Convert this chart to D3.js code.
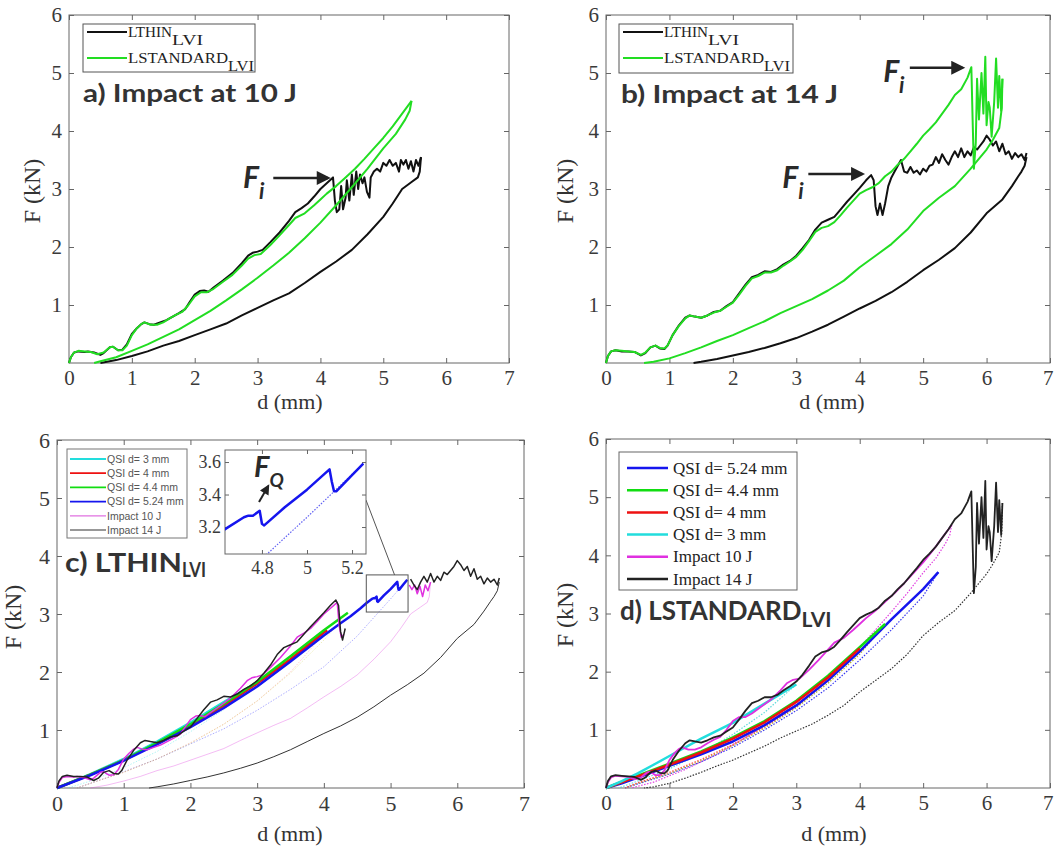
<!DOCTYPE html>
<html>
<head>
<meta charset="utf-8">
<script src="https://cdn.jsdelivr.net/npm/d3@7/dist/d3.min.js"></script>
<style>
  body { margin: 0; background: #fff; }
</style>
</head>
<body>
<div id="chart"></div>
<script>
// ---- tick values ----
const xTicks = [0, 1, 2, 3, 4, 5, 6, 7]
const yTicks = [1, 2, 3, 4, 5, 6]
const insetXTicks = [4.8, 5, 5.2]
const insetYTicks = [3.2, 3.4, 3.6]

// ---- series names ----
const legendAB = ["LTHIN", "LSTANDARD"]
const legendC = ["QSI d= 3 mm", "QSI d= 4 mm", "QSI d= 4.4 mm", "QSI d= 5.24 mm", "Impact 10 J", "Impact 14 J"]
const legendD = ["QSI d= 5.24 mm", "QSI d= 4.4 mm", "QSI d= 4 mm", "QSI d= 3 mm", "Impact 10 J", "Impact 14 J"]

// ---- impact curves [d (mm), F (kN)] ----
// LTHIN, 10 J
const thin10Load = [[0,0],[0.03,0.1],[0.08,0.18],[0.15,0.2],[0.25,0.19],[0.3,0.2],[0.4,0.18],[0.5,0.14],[0.55,0.17],[0.65,0.27],[0.7,0.28],[0.78,0.22],[0.85,0.23],[0.92,0.32],[1.0,0.5],[1.08,0.6],[1.15,0.67],[1.2,0.7],[1.28,0.67],[1.35,0.66],[1.45,0.7],[1.55,0.74],[1.65,0.8],[1.75,0.86],[1.85,0.93],[1.92,1.05],[2.0,1.18],[2.08,1.24],[2.15,1.25],[2.22,1.23],[2.3,1.3],[2.45,1.42],[2.6,1.55],[2.75,1.72],[2.85,1.85],[2.92,1.9],[3.0,1.92],[3.08,1.95],[3.2,2.08],[3.35,2.25],[3.5,2.45],[3.6,2.6],[3.7,2.67],[3.8,2.75],[3.9,2.87],[4.0,3.0],[4.1,3.1],[4.2,3.2],[4.23,2.8],[4.26,2.6],[4.3,2.65],[4.33,3.05],[4.36,2.65],[4.4,2.85],[4.42,3.15],[4.46,2.8],[4.5,3.25],[4.53,2.9],[4.57,3.3],[4.6,3.0],[4.63,3.25],[4.67,3.1],[4.7,3.2],[4.74,2.95],[4.78,2.85],[4.8,3.2],[4.85,3.3],[4.9,3.35],[4.95,3.3],[5.0,3.45],[5.05,3.4],[5.1,3.5],[5.15,3.4],[5.2,3.45],[5.25,3.3],[5.28,3.5],[5.32,3.42],[5.36,3.5],[5.4,3.35],[5.44,3.48],[5.48,3.3],[5.52,3.5],[5.56,3.4],[5.6,3.55]]
const thin10Unload = [[5.6,3.55],[5.58,3.3],[5.55,3.2],[5.45,3.12],[5.3,3.0],[5.15,2.75],[5.0,2.52],[4.75,2.22],[4.5,1.95],[4.25,1.75],[4.0,1.57],[3.75,1.38],[3.5,1.2],[3.25,1.08],[3.0,0.95],[2.75,0.82],[2.5,0.68],[2.25,0.58],[2.0,0.48],[1.75,0.38],[1.5,0.3],[1.25,0.2],[1.0,0.12],[0.75,0.05],[0.5,0]]
// LSTANDARD, 10 J
const std10Load = [[0,0],[0.03,0.1],[0.08,0.18],[0.15,0.21],[0.25,0.2],[0.35,0.19],[0.45,0.15],[0.55,0.18],[0.65,0.27],[0.7,0.28],[0.78,0.22],[0.85,0.22],[0.92,0.3],[1.0,0.48],[1.08,0.6],[1.15,0.67],[1.2,0.7],[1.3,0.66],[1.4,0.66],[1.5,0.7],[1.6,0.77],[1.7,0.83],[1.8,0.88],[1.9,1.0],[2.0,1.15],[2.1,1.22],[2.2,1.22],[2.3,1.28],[2.45,1.4],[2.6,1.52],[2.75,1.68],[2.85,1.8],[2.95,1.86],[3.05,1.88],[3.2,2.03],[3.35,2.2],[3.5,2.38],[3.6,2.5],[3.75,2.58],[3.9,2.72],[4.0,2.82],[4.1,2.92],[4.25,3.05],[4.4,3.2],[4.55,3.35],[4.7,3.52],[4.85,3.7],[5.0,3.88],[5.15,4.08],[5.3,4.3],[5.45,4.52]]
const std10Unload = [[5.45,4.52],[5.42,4.35],[5.35,4.2],[5.2,3.95],[5.0,3.7],[4.75,3.35],[4.5,3.03],[4.25,2.72],[4.0,2.42],[3.75,2.15],[3.5,1.9],[3.25,1.68],[3.0,1.47],[2.75,1.27],[2.5,1.08],[2.25,0.9],[2.0,0.74],[1.75,0.58],[1.5,0.45],[1.25,0.32],[1.0,0.21],[0.75,0.1],[0.5,0.03],[0.4,0]]
// LTHIN, 14 J
const thin14Load = [[0,0],[0.03,0.12],[0.08,0.2],[0.15,0.22],[0.25,0.2],[0.35,0.2],[0.45,0.19],[0.55,0.13],[0.62,0.17],[0.7,0.27],[0.78,0.3],[0.85,0.25],[0.92,0.24],[0.97,0.3],[1.05,0.48],[1.15,0.65],[1.25,0.78],[1.32,0.82],[1.4,0.8],[1.5,0.78],[1.6,0.82],[1.7,0.88],[1.8,0.9],[1.9,0.98],[2.0,1.05],[2.1,1.2],[2.2,1.35],[2.3,1.48],[2.4,1.52],[2.5,1.58],[2.6,1.57],[2.7,1.62],[2.8,1.7],[2.9,1.76],[3.0,1.85],[3.1,1.98],[3.2,2.12],[3.3,2.3],[3.4,2.42],[3.5,2.47],[3.6,2.52],[3.7,2.65],[3.8,2.78],[3.9,2.9],[4.0,3.02],[4.1,3.15],[4.18,3.24],[4.22,3.15],[4.25,2.7],[4.28,2.55],[4.32,2.75],[4.36,2.55],[4.4,2.75],[4.45,3.05],[4.5,3.2],[4.55,3.3],[4.6,3.4],[4.65,3.5],[4.7,3.3],[4.75,3.28],[4.8,3.38],[4.85,3.28],[4.9,3.32],[4.95,3.25],[5.0,3.35],[5.05,3.3],[5.1,3.4],[5.15,3.42],[5.2,3.55],[5.25,3.45],[5.3,3.6],[5.35,3.5],[5.4,3.42],[5.45,3.55],[5.5,3.65],[5.55,3.55],[5.6,3.7],[5.65,3.55],[5.7,3.65],[5.75,3.58],[5.8,3.72],[5.85,3.68],[5.9,3.75],[5.95,3.82],[6.0,3.92],[6.05,3.85],[6.1,3.75],[6.15,3.82],[6.2,3.65],[6.25,3.78],[6.3,3.6],[6.35,3.65],[6.4,3.52],[6.45,3.62],[6.5,3.55],[6.55,3.6],[6.6,3.5],[6.63,3.62]]
const thin14Unload = [[6.63,3.55],[6.6,3.4],[6.55,3.3],[6.5,3.22],[6.4,3.05],[6.25,2.82],[6.0,2.58],[5.75,2.25],[5.5,1.98],[5.25,1.78],[5.0,1.6],[4.75,1.4],[4.5,1.22],[4.25,1.07],[4.0,0.94],[3.75,0.8],[3.5,0.66],[3.25,0.54],[3.0,0.43],[2.75,0.34],[2.5,0.26],[2.25,0.19],[2.0,0.13],[1.75,0.07],[1.5,0.02],[1.38,0]]
// LSTANDARD, 14 J
const std14Load = [[0,0],[0.03,0.12],[0.08,0.2],[0.15,0.22],[0.25,0.21],[0.35,0.2],[0.45,0.19],[0.55,0.14],[0.62,0.18],[0.7,0.27],[0.78,0.3],[0.85,0.26],[0.92,0.25],[0.97,0.3],[1.05,0.48],[1.15,0.64],[1.25,0.77],[1.32,0.82],[1.4,0.8],[1.5,0.78],[1.6,0.82],[1.7,0.87],[1.8,0.9],[1.9,0.97],[2.0,1.04],[2.1,1.18],[2.2,1.33],[2.3,1.46],[2.4,1.5],[2.5,1.56],[2.6,1.56],[2.7,1.6],[2.8,1.68],[2.9,1.75],[3.0,1.83],[3.1,1.95],[3.2,2.1],[3.3,2.26],[3.4,2.33],[3.5,2.36],[3.6,2.43],[3.7,2.55],[3.8,2.68],[3.9,2.8],[4.0,2.92],[4.1,2.98],[4.2,3.03],[4.3,3.1],[4.4,3.22],[4.5,3.3],[4.6,3.42],[4.7,3.52],[4.8,3.65],[4.9,3.78],[5.0,3.92],[5.1,4.03],[5.2,4.15],[5.3,4.3],[5.4,4.45],[5.5,4.62],[5.6,4.72],[5.7,4.92],[5.76,5.1],[5.78,4.2],[5.8,3.35],[5.83,3.8],[5.85,4.9],[5.88,4.2],[5.92,5.0],[5.95,4.3],[5.98,5.28],[6.0,4.1],[6.03,4.5],[6.05,4.4],[6.08,3.9],[6.12,4.5],[6.15,5.25],[6.18,4.4],[6.2,4.95],[6.23,4.35],[6.25,4.9]]
const std14Unload = [[6.25,4.9],[6.24,4.4],[6.2,4.05],[6.1,3.85],[6.0,3.68],[5.75,3.35],[5.5,3.05],[5.25,2.85],[5.0,2.62],[4.75,2.3],[4.5,2.05],[4.25,1.85],[4.0,1.65],[3.75,1.42],[3.5,1.25],[3.25,1.1],[3.0,0.98],[2.75,0.86],[2.5,0.72],[2.25,0.6],[2.0,0.48],[1.75,0.38],[1.5,0.27],[1.25,0.17],[1.0,0.08],[0.75,0.02],[0.6,0]]

// ---- QSI curves, LTHIN ----
const thinQsi3 = [[0,0],[0.5,0.24],[1,0.5],[1.5,0.8],[2,1.13],[2.5,1.48],[3,1.82]]
const thinQsi4 = [[0,0],[0.5,0.23],[1,0.48],[1.5,0.77],[2,1.08],[2.5,1.42],[3,1.8],[3.5,2.22],[4,2.68],[4.05,2.72]]
const thinQsi44 = [[0,0],[0.5,0.23],[1,0.48],[1.5,0.78],[2,1.1],[2.5,1.45],[3,1.83],[3.5,2.27],[4,2.72],[4.36,3.02]]
const thinQsi524 = [[0,0],[0.5,0.22],[1,0.47],[1.5,0.75],[2,1.05],[2.5,1.38],[3,1.75],[3.5,2.18],[4,2.63],[4.25,2.84],[4.4,2.96],[4.55,3.1],[4.64,3.19],[4.72,3.26],[4.74,3.27],[4.76,3.27],[4.79,3.3],[4.8,3.22],[4.81,3.21],[4.9,3.32],[5.0,3.43],[5.1,3.555],[5.11,3.48],[5.12,3.42],[5.13,3.42],[5.2,3.52],[5.25,3.59]]
const thinQsi3Unload = [[3,1.82],[2.5,1.35],[2,0.97],[1.5,0.63],[1,0.35],[0.5,0.12],[0.25,0.03],[0.15,0]]
const thinQsi4Unload = [[4.05,2.72],[3.5,2.0],[3,1.5],[2.5,1.1],[2,0.78],[1.5,0.5],[1,0.27],[0.5,0.08],[0.3,0]]
const thinQsi44Unload = [[4.36,3.02],[4,2.55],[3.5,1.98],[3,1.5],[2.5,1.1],[2,0.77],[1.5,0.5],[1,0.27],[0.5,0.08],[0.3,0]]
const thinQsi524Unload = [[5.25,3.59],[5.0,3.26],[4.82,3.03],[4.5,2.62],[4.0,2.09],[3.5,1.7],[3.0,1.34],[2.5,1.02],[2.0,0.76],[1.5,0.5],[1.0,0.28],[0.5,0.08],[0.3,0]]

// ---- QSI curves, LSTANDARD ----
const stdQsi524 = [[0,0],[0.25,0.08],[0.5,0.18],[0.75,0.28],[1,0.38],[1.5,0.58],[2,0.8],[2.5,1.08],[3,1.42],[3.5,1.85],[4,2.35],[4.5,2.9],[5,3.42],[5.24,3.71]]
const stdQsi44 = [[0,0],[0.5,0.21],[1,0.42],[1.5,0.63],[2,0.87],[2.5,1.15],[3,1.5],[3.5,1.93],[4,2.42],[4.4,2.82]]
const stdQsi4 = [[0,0],[0.5,0.2],[1,0.4],[1.5,0.61],[2,0.85],[2.5,1.13],[3,1.48],[3.5,1.9],[4,2.4]]
const stdQsi3 = [[0,0],[0.25,0.12],[0.5,0.25],[0.75,0.4],[1,0.55],[1.5,0.85],[2,1.12],[2.5,1.45],[3,1.78]]
const stdQsi524Unload = [[5.24,3.71],[5.0,3.3],[4.5,2.72],[4.0,2.2],[3.5,1.72],[3.0,1.33],[2.5,1.0],[2.0,0.7],[1.5,0.45],[1.0,0.24],[0.5,0.07],[0.3,0]]
const stdQsi44Unload = [[4.4,2.82],[4.0,2.3],[3.5,1.8],[3.0,1.38],[2.5,1.03],[2.0,0.73],[1.5,0.47],[1.0,0.25],[0.5,0.08],[0.3,0]]
const stdQsi4Unload = [[4.0,2.4],[3.5,1.84],[3.0,1.4],[2.5,1.05],[2.0,0.75],[1.5,0.49],[1.0,0.27],[0.5,0.09],[0.3,0]]
const stdQsi3Unload = [[3.0,1.78],[2.5,1.3],[2.0,0.92],[1.5,0.6],[1.0,0.33],[0.5,0.12],[0.2,0]]

// in panel c the impact loadings are only shown outside this d range
const hiddenC = [4.32, 5.28]

const GREEN = "#22dd22"
const serif = "'Liberation Serif', 'Times New Roman', serif"
const sans = "Lato, 'Open Sans', sans-serif"

const svg = d3.select("#chart").append("svg")
    .attr("width", 1054)
    .attr("height", 846)
    .style("background", "#fff")

const defs = svg.append("defs")
function addMarker(id, w, h) {
    defs.append("marker")
        .attr("id", id)
        .attr("viewBox", "0 0 10 10")
        .attr("refX", 8).attr("refY", 5)
        .attr("markerWidth", w).attr("markerHeight", h)
        .attr("markerUnits", "userSpaceOnUse")
        .attr("orient", "auto")
        .append("path").attr("d", "M0,0 L10,5 L0,10 z").attr("fill", "#222")
}
addMarker("head", 17, 14)
addMarker("headSmall", 11, 10)

function makePanel(box, xDom, yDom) {
    const x = d3.scaleLinear().domain(xDom).range([box.left, box.right])
    const y = d3.scaleLinear().domain(yDom).range([box.bottom, box.top])
    return { x: x, y: y, box: box }
}

function drawFrame(p, xt, yt, fontSize, tick, xPad, yPad, fmt, edgeRight) {
    const b = p.box
    const g = svg.append("g")
    g.append("rect")
        .attr("x", b.left).attr("y", b.top)
        .attr("width", b.right - b.left).attr("height", b.bottom - b.top)
        .attr("fill", "#fff").attr("stroke", "#666").attr("stroke-width", 1)
    const axes = [
        [d3.axisBottom(p.x).tickValues(xt).tickPadding(xPad).tickFormat(fmt), `translate(0,${b.bottom})`],
        [d3.axisTop(p.x).tickValues(xt).tickFormat(""), `translate(0,${b.top})`],
        [d3.axisLeft(p.y).tickValues(yt).tickPadding(yPad).tickFormat(fmt), `translate(${b.left},0)`],
        [d3.axisRight(p.y).tickValues(yt).tickFormat(""), `translate(${b.right},0)`]
    ]
    axes.forEach(function (a, i) {
        const ax = g.append("g").attr("transform", a[1])
            .call(a[0].tickSizeInner(-tick).tickSizeOuter(0))
        ax.select(".domain").remove()
        ax.selectAll(".tick line").attr("stroke", "#666")
        ax.selectAll("text")
            .style("font-family", serif)
            .style("font-size", fontSize + "px")
            .attr("fill", "#3a3a3a")
        // last x label sits at the page edge: keep it inside
        if (i === 0 && edgeRight) {
            ax.selectAll(".tick:last-of-type text").attr("text-anchor", "end").attr("x", 3)
        }
    })
    return g
}

function axisTitles(p, fx, fy, dx, dy) {
    svg.append("text")
        .attr("transform", `translate(${fx},${fy}) rotate(-90)`)
        .attr("text-anchor", "middle")
        .style("font-family", serif).style("font-size", "24px")
        .attr("fill", "#333")
        .text("F (kN)")
    svg.append("text")
        .attr("x", dx).attr("y", dy)
        .attr("text-anchor", "middle")
        .style("font-family", serif).style("font-size", "22px")
        .attr("fill", "#333")
        .text("d (mm)")
}

function drawSeries(p, data, color, width, dash, opacity, parent, gap) {
    const gen = d3.line()
        .x(function (d) { return p.x(d[0]) })
        .y(function (d) { return p.y(d[1]) })
    if (gap) gen.defined(function (d) { return d[0] <= gap[0] || d[0] >= gap[1] })
    ;(parent || svg).append("path")
        .datum(data)
        .attr("d", gen)
        .attr("fill", "none")
        .attr("stroke", color)
        .attr("stroke-width", width)
        .attr("stroke-linejoin", "round")
        .attr("stroke-dasharray", dash || null)
        .attr("opacity", opacity == null ? 1 : opacity)
}

// text with a subscript part
function subLabel(x, y, main, sub, o) {
    const t = svg.append("text")
        .attr("x", x).attr("y", y)
        .style("font-family", o.family)
        .style("font-weight", o.weight || "normal")
        .style("font-style", o.style || "normal")
        .attr("fill", o.fill || "#222")
    const m = t.append("tspan").style("font-size", o.size + "px").text(main)
    if (o.mainWidth) m.attr("textLength", o.mainWidth).attr("lengthAdjust", "spacingAndGlyphs")
    const s = t.append("tspan").attr("dy", o.subDy).style("font-size", o.subSize + "px").text(sub)
    if (o.subWidth) s.attr("textLength", o.subWidth).attr("lengthAdjust", "spacingAndGlyphs")
    return t
}

function title(x, y, txt, w) {
    svg.append("text")
        .attr("x", x).attr("y", y)
        .style("font-family", sans).style("font-weight", "bold")
        .style("font-size", "24px")
        .attr("fill", "#333")
        .attr("textLength", w).attr("lengthAdjust", "spacingAndGlyphs")
        .text(txt)
}

function fi(p, dx, fy, sub, ax1, ax2, big) {
    const x = p.x(dx), y = p.y(fy)
    subLabel(x, y, "F", sub, {
        family: sans, weight: "bold", style: "italic", fill: "#2a2a2a",
        size: big ? 30 : 29, subSize: big ? 22 : 19, subDy: big ? 11 : 10
    })
    svg.append("line")
        .attr("x1", p.x(ax1[0])).attr("y1", p.y(ax1[1]))
        .attr("x2", p.x(ax2[0])).attr("y2", p.y(ax2[1]))
        .attr("stroke", "#222").attr("stroke-width", big ? 2.5 : 2)
        .attr("marker-end", big ? "url(#head)" : "url(#headSmall)")
}

function abLegend(x0, y0, x1, y1, lineX0, lineX1, rows) {
    svg.append("rect").attr("x", x0).attr("y", y0).attr("width", x1 - x0).attr("height", y1 - y0)
        .attr("fill", "#fff").attr("stroke", "#555").attr("stroke-width", 1)
    rows.forEach(function (r) {
        svg.append("line").attr("x1", lineX0).attr("x2", lineX1).attr("y1", r.y).attr("y2", r.y)
            .attr("stroke", r.color).attr("stroke-width", 2)
        subLabel(lineX1 + 1, r.y + 5, r.name, "LVI", {
            family: serif, size: 15, subSize: 14, subDy: 8, fill: "#222",
            mainWidth: r.mw, subWidth: r.sw
        })
    })
}

// ================= Panel a =================
const pa = makePanel({ left: 69, right: 509, top: 15, bottom: 363 }, [0, 7], [0, 6])
drawFrame(pa, xTicks, yTicks, 21, 5, 7, 7, d3.format("d"))
drawSeries(pa, thin10Unload, "#111", 2)
drawSeries(pa, thin10Load, "#111", 2)
drawSeries(pa, std10Unload, GREEN, 2)
drawSeries(pa, std10Load, GREEN, 2)
abLegend(83, 24, 255, 72, 87, 127, [
    { y: 32, color: "#111", name: legendAB[0], mw: 44, sw: 31 },
    { y: 58, color: GREEN, name: legendAB[1], mw: 100, sw: 26 }
])
title(83, 102, "a) Impact at 10 J", 214)
fi(pa, 2.77, 3.02, "i", [3.25, 3.19], [4.12, 3.19], true)
axisTitles(pa, 40, 191, 290, 409)

// ================= Panel b =================
const pb = makePanel({ left: 606, right: 1050, top: 15, bottom: 363 }, [0, 7], [0, 6])
drawFrame(pb, xTicks, yTicks, 21, 5, 7, 7, d3.format("d"), true)
drawSeries(pb, thin14Unload, "#111", 2)
drawSeries(pb, thin14Load, "#111", 2)
drawSeries(pb, std14Unload, GREEN, 2)
drawSeries(pb, std14Load, GREEN, 2)
abLegend(619, 24, 793, 73, 623, 663, [
    { y: 32, color: "#111", name: legendAB[0], mw: 44, sw: 31 },
    { y: 58, color: GREEN, name: legendAB[1], mw: 100, sw: 26 }
])
title(621, 103, "b) Impact at 14 J", 217)
fi(pb, 2.78, 3.02, "i", [3.19, 3.26], [4.04, 3.26], true)
fi(pb, 4.37, 4.84, "i", [4.79, 5.09], [5.62, 5.09], true)
axisTitles(pb, 573, 191, 832, 409)

// ================= Panel c =================
const pc = makePanel({ left: 57, right: 524, top: 440, bottom: 788 }, [0, 7], [0, 6])
drawFrame(pc, xTicks, yTicks, 22, 5, 7, 7, d3.format("d"))
drawSeries(pc, thin14Unload, "#333", 1)
drawSeries(pc, thin10Unload, "#e040e0", 1, null, 0.35)
drawSeries(pc, thinQsi524Unload, "#6a6aff", 1, "1.5,1.5", 0.55)
drawSeries(pc, thinQsi3Unload, "#00dddd", 1, "1.5,1.5", 0.3)
drawSeries(pc, thinQsi4Unload, "#ff6060", 1, "1.5,1.5", 0.3)
drawSeries(pc, thinQsi44Unload, "#c8c840", 1, "1.5,1.5", 0.35)
drawSeries(pc, thinQsi3, "#22dddd", 2.5)
drawSeries(pc, thinQsi4, "#ee1111", 2.5)
drawSeries(pc, thinQsi44, "#11dd11", 2.5)
drawSeries(pc, thinQsi524, "#1515ee", 2.5)
drawSeries(pc, thin10Load, "#e030e0", 1.5, null, 1, null, hiddenC)
drawSeries(pc, thin14Load, "#222", 1.5, null, 1, null, hiddenC)

// zoom box
const insetX = [4.636, 5.262], insetY = [3.034, 3.674]
svg.append("rect")
    .attr("x", pc.x(insetX[0])).attr("y", pc.y(insetY[1]))
    .attr("width", pc.x(insetX[1]) - pc.x(insetX[0]))
    .attr("height", pc.y(insetY[0]) - pc.y(insetY[1]))
    .attr("fill", "none").attr("stroke", "#555").attr("stroke-width", 1)

// legend c
svg.append("rect").attr("x", 67).attr("y", 449).attr("width", 120).attr("height", 89)
    .attr("fill", "#fff").attr("stroke", "#777").attr("stroke-width", 1)
const colorsC = ["#22dddd", "#ee1111", "#11dd11", "#1515ee", "#e070e0", "#333"]
legendC.forEach(function (name, i) {
    const yy = 459 + i * 14.2
    svg.append("line").attr("x1", 70).attr("x2", 106).attr("y1", yy).attr("y2", yy)
        .attr("stroke", colorsC[i]).attr("stroke-width", i < 4 ? 1.8 : 1.2)
    svg.append("text").attr("x", 107).attr("y", yy + 3.8)
        .style("font-family", "'Liberation Sans', Arial, sans-serif").style("font-size", "10.5px")
        .attr("fill", "#555").text(name)
})
subLabel(65, 572, "c) LTHIN", "LVI", {
    family: sans, weight: "bold", size: 26, subSize: 21, subDy: 5, fill: "#333",
    mainWidth: 117, subWidth: 24
})

// inset
const pi = makePanel({ left: 225, right: 366, top: 450, bottom: 554 }, insetX, insetY)
svg.append("line")
    .attr("x1", pi.x(insetX[1])).attr("y1", pi.y(3.366))
    .attr("x2", pc.x(5.06)).attr("y2", pc.y(insetY[1]))
    .attr("stroke", "#555").attr("stroke-width", 1)
drawFrame(pi, insetXTicks, insetYTicks, 18, 4, 7, 4, function (d) { return d3.format("")(d) })
svg.append("clipPath").attr("id", "insetClip").append("rect")
    .attr("x", 225).attr("y", 450).attr("width", 141).attr("height", 104)
const ig = svg.append("g").attr("clip-path", "url(#insetClip)")
drawSeries(pi, thinQsi524Unload, "#3a3af0", 1.2, "1.5,1.5", 0.8, ig)
drawSeries(pi, thinQsi524, "#1515ee", 2.5, null, 1, ig)
fi(pi, 4.765, 3.51, "Q", [4.787, 3.354], [4.828, 3.452], false)
axisTitles(pc, 21, 617, 290, 841)

// ================= Panel d =================
const pd = makePanel({ left: 606, right: 1050, top: 439, bottom: 788 }, [0, 7], [0, 6])
drawFrame(pd, xTicks, yTicks, 21, 5, 7, 7, d3.format("d"), true)
drawSeries(pd, std14Unload, "#333", 1.2, "1.5,1.5")
drawSeries(pd, std10Unload, "#e040e0", 1.2, "1.5,1.5")
drawSeries(pd, stdQsi524Unload, "#3a3af0", 1.2, "1.5,1.5")
drawSeries(pd, stdQsi44Unload, "#b0b030", 1.2, "1.5,1.5")
drawSeries(pd, stdQsi4Unload, "#ff5050", 1.2, "1.5,1.5")
drawSeries(pd, stdQsi3Unload, "#20cccc", 1.2, "1.5,1.5", 0.7)
drawSeries(pd, stdQsi524, "#1515ee", 2.5)
drawSeries(pd, stdQsi44, "#11dd11", 2.5)
drawSeries(pd, stdQsi4, "#ee1111", 2.5)
drawSeries(pd, stdQsi3, "#22dddd", 2.5)
drawSeries(pd, std10Load, "#e030e0", 1.8)
drawSeries(pd, std14Load, "#222", 1.8)

svg.append("rect").attr("x", 619).attr("y", 452).attr("width", 178).attr("height", 138)
    .attr("fill", "#fff").attr("stroke", "#666").attr("stroke-width", 1)
const colorsD = ["#1515ee", "#11dd11", "#ee1111", "#22dddd", "#e030e0", "#222"]
legendD.forEach(function (name, i) {
    const yy = 468 + i * 22.2
    svg.append("line").attr("x1", 627).attr("x2", 668).attr("y1", yy).attr("y2", yy)
        .attr("stroke", colorsD[i]).attr("stroke-width", 2.5)
    svg.append("text").attr("x", 673).attr("y", yy + 5.5)
        .style("font-family", serif).style("font-size", "17px")
        .attr("fill", "#222").text(name)
})
subLabel(620, 620, "d) LSTANDARD", "LVI", {
    family: sans, weight: "bold", size: 26, subSize: 21, subDy: 7, fill: "#333"
})
axisTitles(pd, 573, 615, 834, 841)
</script>
</body>
</html>
